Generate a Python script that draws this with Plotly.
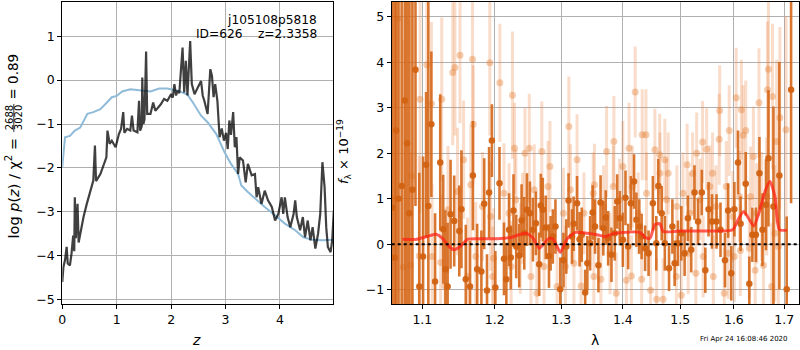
import plotly.graph_objects as go

# ---------------- left panel data: log p(z) ----------------
z_blue = [0, 0.05, 0.14, 0.23, 0.33, 0.39, 0.46, 0.57, 0.70, 0.82,
          0.91, 1.0, 1.10, 1.25, 1.44, 1.62, 1.78, 1.93, 2.12, 2.30,
          2.40, 2.55, 2.67, 2.83, 2.98, 3.10, 3.23, 3.29, 3.41, 3.54,
          3.72, 3.91, 4.09, 4.28, 4.43, 4.59, 4.77, 5.0]
logp_blue = [-1.98, -1.3, -1.27, -1.15, -1.08, -0.92, -0.77, -0.73, -0.66, -0.51,
             -0.39, -0.36, -0.26, -0.21, -0.24, -0.26, -0.19, -0.19, -0.24, -0.33,
             -0.51, -0.81, -0.96, -1.23, -1.64, -1.91, -2.14, -2.40, -2.55, -2.70,
             -2.89, -3.08, -3.27, -3.42, -3.58, -3.64, -3.65, -3.64]

z_dark = [0.0, 0.02, 0.05, 0.08, 0.1, 0.14, 0.17, 0.2, 0.22, 0.23,
          0.25, 0.28, 0.3, 0.33, 0.39, 0.45, 0.51, 0.57, 0.6, 0.62,
          0.7, 0.76, 0.81, 0.83, 0.87, 0.91, 0.98, 1.04, 1.08, 1.12,
          1.14, 1.19, 1.25, 1.28, 1.31, 1.38, 1.41, 1.43, 1.46, 1.47,
          1.49, 1.51, 1.54, 1.56, 1.62, 1.67, 1.71, 1.81, 1.87, 1.93,
          2.0, 2.03, 2.06, 2.09, 2.12, 2.15, 2.21, 2.24, 2.27, 2.3,
          2.35, 2.38, 2.43, 2.49, 2.55, 2.58, 2.61, 2.67, 2.72, 2.75,
          2.78, 2.81, 2.85, 2.89, 2.93, 2.97, 3.01, 3.04, 3.07, 3.1,
          3.14, 3.17, 3.2, 3.23, 3.26, 3.32, 3.37, 3.41, 3.48, 3.54,
          3.57, 3.6, 3.66, 3.72, 3.78, 3.85, 3.91, 3.97, 4.03, 4.06,
          4.09, 4.14, 4.19, 4.25, 4.28, 4.31, 4.37, 4.42, 4.46, 4.51,
          4.56, 4.6, 4.65, 4.7, 4.74, 4.78, 4.82, 4.85, 4.88, 4.93,
          4.96, 4.99]
logp_dark = [-4.6, -4.26, -4.1, -3.8, -4.18, -4.22, -3.95, -3.54, -3.9, -2.67,
             -3.6, -2.82, -3.7, -3.5, -3.12, -2.82, -2.52, -2.29, -1.49, -2.3,
             -2.14, -1.91, -1.76, -1.15, -1.45, -1.38, -1.53, -1.23, -1.11, -0.73,
             -1.2, -1.11, -1.15, -0.81, -1.15, -1.19, -0.47, -1.15, -1.05, 0.06,
             -1.0, -0.9, 0.65, -0.77, -0.77, -0.51, -0.7, -0.55, -0.43, -0.47,
             -0.32, -0.4, -0.09, -0.35, -0.24, -0.3, 0.74, -0.28, 0.44, -0.35,
             0.89, -0.09, -0.32, -0.17, -0.02, -0.35, -0.47, -0.77, 0.25, 0.1,
             -0.39, -0.09, -0.47, -1.3, -1.1, -1.38, -1.2, -1.57, -0.92, -1.25,
             -0.73, -1.53, -1.3, -2.14, -1.76, -1.83, -2.33, -1.91, -2.17, -2.14,
             -2.67, -2.44, -2.82, -2.52, -2.74, -2.89, -3.2, -3.05, -2.67, -3.05,
             -2.67, -3.12, -3.35, -3.05, -2.74, -3.12, -3.42, -3.12, -3.58, -3.2,
             -3.65, -3.35, -3.84, -3.5, -3.05, -1.87, -2.44, -3.35, -3.8, -3.92,
             -3.65, -2.97]

# ---------------- right panel data: spectrum ----------------
lam_d = [1.061, 1.064, 1.066, 1.069, 1.073, 1.077, 1.080, 1.083, 1.087, 1.091,
         1.096, 1.101, 1.105, 1.108, 1.112, 1.117, 1.124, 1.128, 1.131, 1.134,
         1.138, 1.143, 1.150, 1.153, 1.159, 1.165, 1.169, 1.175, 1.181, 1.185,
         1.189, 1.192, 1.196, 1.201, 1.207, 1.2135, 1.217, 1.221, 1.2235, 1.2275,
         1.2315, 1.236, 1.2395, 1.2435, 1.2475, 1.252, 1.2565, 1.261, 1.266, 1.2685,
         1.2715, 1.276, 1.281, 1.2835, 1.287, 1.291, 1.2985, 1.3035, 1.308, 1.3115,
         1.317, 1.3195, 1.325, 1.329, 1.3325, 1.338, 1.3415, 1.346, 1.350, 1.354,
         1.3595, 1.363, 1.3675, 1.3715, 1.3755, 1.381, 1.3865, 1.3905, 1.395, 1.400,
         1.4045, 1.409, 1.4135, 1.419, 1.423, 1.428, 1.432, 1.438, 1.444, 1.4515,
         1.4575, 1.461, 1.467, 1.4725, 1.480, 1.486, 1.490, 1.496, 1.502, 1.508,
         1.514, 1.520, 1.526, 1.5325, 1.5395, 1.546, 1.552, 1.5585, 1.567, 1.5745,
         1.583, 1.589, 1.595, 1.601, 1.608, 1.613, 1.623, 1.630, 1.636, 1.643,
         1.650, 1.656, 1.663, 1.668, 1.678, 1.690, 1.705, 1.714]
flux_d = [0.8, -0.3, 2.5, 1.0, 1.28, 3.16, 2.22, 0.68, 1.2, 3.84,
          -0.93, -0.27, 1.75, 0.84, 2.64, -0.82, 1.80, 0.33, -0.55, -0.93,
          0.66, 0.51, 0.29, 0.77, -0.77, -0.93, 1.51, -0.55, -0.60, 0.89,
          -1.02, 1.14, 2.28, -0.95, 1.34, -0.32, -0.77, 0.32, -0.29, 0.74,
          -0.05, -0.25, 0.52, 0.24, 0.76, 0.68, 0.32, 0.46, -0.44, 0.85,
          0.76, 0.37, -0.26, 0.02, 0.17, 0.39, -0.99, -0.35, -0.05, 0.96,
          0.17, 0.45, 0.90, 0.11, 0.21, -1.06, -0.42, 0.02, 0.70, 0.39,
          -0.46, 0.92, 0.35, 0.59, 0.13, -0.23, 0.24, 0.94, 0.57, 0.10,
          1.02, -0.05, 0.90, 1.38, 0.54, 0.39, 0.17, -0.09, -0.20, 0.90,
          0.02, 1.28, 0.68, 0.02, -0.53, 0.39, -0.42, 0.02, 0.24, -0.20,
          0.57, -0.12, 1.14, 0.50, 1.14, -0.57, 0.77, 0.50, 0.50, 0.32,
          -0.35, 0.74, -0.64, 0.77, 1.80, 0.45, 1.33, -0.87, 0.21, 0.21,
          1.56, 0.32, 0.87, 1.89, 0.83, 1.51, -0.99, 3.4]
err_d = [10, 10, 10, 9, 8, 7, 7, 5, 6, 3,
         2.5, 2.2, 1.6, 4.5, 1.6, 1.5, 1.5, 1.2, 1.3, 1.4,
         1.2, 1.0, 1.0, 1.3, 1.2, 1.0, 1.2, 1.0, 0.9, 1.0,
         0.8, 1.0, 0.8, 0.8, 0.8, 0.8, 0.8, 0.8, 0.7, 0.8,
         0.7, 0.7, 0.8, 0.8, 0.8, 0.7, 0.7, 0.7, 0.7, 0.7,
         0.7, 0.7, 0.7, 0.6, 0.6, 0.6, 0.7, 0.6, 0.6, 0.6,
         0.6, 0.6, 0.6, 0.6, 0.6, 0.5, 0.6, 0.6, 0.6, 0.6,
         0.6, 0.6, 0.6, 0.6, 0.6, 0.6, 0.6, 0.6, 0.6, 0.6,
         0.6, 0.5, 0.6, 0.6, 0.6, 0.6, 0.5, 0.5, 0.5, 0.6,
         0.6, 0.6, 0.6, 0.6, 0.5, 0.6, 0.5, 0.5, 0.6, 0.5,
         0.5, 0.5, 0.6, 0.5, 0.5, 0.5, 0.6, 0.6, 0.6, 0.6,
         0.6, 0.6, 0.6, 0.6, 0.7, 0.6, 0.7, 0.6, 0.6, 0.6,
         0.8, 0.8, 1.0, 1.5, 2.2, 2.5, 1.6, 2.5]

lam_l = [1.062, 1.068, 1.075, 1.086, 1.097, 1.106, 1.112, 1.126, 1.141, 1.144,
         1.151, 1.1685, 1.1695, 1.156, 1.193, 1.2075, 1.226, 1.229, 1.251, 1.2445,
         1.270, 1.2825, 1.312, 1.325, 1.353, 1.373, 1.385, 1.400, 1.4105, 1.421,
         1.433, 1.4395, 1.455, 1.4635, 1.4725, 1.4785, 1.5125, 1.5225, 1.530, 1.541,
         1.5485, 1.5595, 1.572, 1.573, 1.591, 1.6045, 1.6145, 1.623, 1.618, 1.638,
         1.649, 1.668, 1.666, 1.676, 1.6845, 1.691, 1.7035,
         1.0843, 1.096, 1.113, 1.1245, 1.1305, 1.1615, 1.173, 1.1985, 1.197, 1.224,
         1.2375, 1.2535, 1.2625, 1.2735, 1.2935, 1.3065, 1.320, 1.3315, 1.352, 1.3635,
         1.3785, 1.389, 1.406, 1.4145, 1.432, 1.4475, 1.458, 1.4695, 1.493, 1.502,
         1.5145, 1.5285, 1.542, 1.561, 1.5815, 1.589, 1.601, 1.6125, 1.630, 1.6415,
         1.658, 1.6745, 1.688,
         1.1345, 1.1475, 1.166, 1.1825, 1.194, 1.2135, 1.221, 1.231, 1.241, 1.2585,
         1.2795, 1.3035, 1.3145, 1.336, 1.351, 1.368, 1.384, 1.3945, 1.416, 1.426,
         1.4405, 1.464, 1.4755, 1.494, 1.505, 1.5175, 1.536, 1.5545, 1.566, 1.5855,
         1.598, 1.611, 1.6325, 1.6445, 1.6545, 1.6645, 1.681]
flux_l = [1.0, 4.96, -0.5, 1.5, 3.19, 3.95, 3.09, 3.19, 3.78, 3.89,
          4.16, 4.07, 2.64, 1.86, 3.99, 3.55, 3.28, 2.11, 2.11, 2.0,
          2.04, 1.71, 2.59, 1.86, 1.31, 2.04, 2.26, 1.71, 2.11, 3.35,
          2.41, 2.41, 2.08, 1.97, 1.86, 1.56, 1.75, 1.56, 2.0, 2.25,
          2.09, 1.56, 2.31, 2.94, 2.5, 3.22, 2.96, 2.5, 2.4, 1.93,
          3.11, 3.85, 3.40, 3.25, 2.26, 2.78, 2.52,
          -0.46, -0.26, -0.27, -0.40, -0.92, -0.71, -0.27, -0.31, -0.71, -0.49,
          -0.09, -0.71, -1.08, -0.49, -0.93, -0.49, -0.42, -0.92, -0.71, -0.77,
          -0.20, -1.08, -0.79, -0.70, -0.77, -1.01, -1.21, -1.21, -0.71, -1.12,
          -0.20, -0.64, -0.27, -0.71, -1.08, -0.20, -0.27, -0.14, -0.09, -0.57,
          -0.46, -0.93, -0.05,
          0.76, 1.16, 1.31, 0.83, 0.61, 1.12, 0.68, 0.98, 0.57, 1.20,
          1.27, 0.68, 1.20, 0.68, 1.12, 0.83, 1.27, 0.98, 1.27, 0.68,
          1.12, 1.56, 0.98, 0.83, 1.12, 0.68, 0.98, 1.27, 0.83, 1.27,
          0.61, 1.05, 1.05, 0.68, 0.83, 1.05, 0.24]
err_l = [6, 6, 5, 4, 2.5, 2.0, 1.8, 1.8, 1.6, 1.5,
         1.5, 1.4, 1.3, 1.3, 1.6, 1.3, 1.4, 1.0, 1.2, 1.0,
         1.1, 1.0, 1.1, 1.0, 0.9, 1.0, 1.0, 1.0, 1.0, 1.0,
         1.0, 1.0, 0.9, 0.9, 0.9, 0.9, 0.9, 0.9, 0.9, 0.9,
         0.9, 0.9, 1.0, 1.0, 1.0, 1.1, 1.1, 1.1, 1.1, 1.1,
         1.2, 1.5, 1.5, 1.6, 1.8, 2.0, 2.5,
         2.5, 2.2, 1.6, 1.5, 1.4, 1.3, 1.2, 1.1, 1.1, 1.0,
         1.0, 1.0, 1.0, 0.9, 0.9, 0.9, 0.9, 0.9, 0.9, 0.9,
         0.9, 0.9, 0.9, 0.9, 0.9, 0.9, 0.9, 0.9, 0.9, 0.9,
         0.9, 0.9, 0.9, 0.9, 1.0, 1.0, 1.0, 1.0, 1.1, 1.1,
         1.2, 1.4, 1.6,
         1.4, 1.4, 1.3, 1.2, 1.2, 1.1, 1.1, 1.1, 1.0, 1.0,
         1.0, 1.0, 1.0, 0.9, 0.9, 0.9, 0.9, 0.9, 0.9, 0.9,
         0.9, 0.9, 0.9, 0.9, 0.9, 0.9, 0.9, 0.9, 0.9, 1.0,
         1.0, 1.0, 1.1, 1.1, 1.2, 1.3, 1.5]

lam_model = [1.074, 1.093, 1.106, 1.118, 1.127, 1.136, 1.143, 1.152, 1.162, 1.180,
             1.203, 1.2235, 1.236, 1.246, 1.256, 1.266, 1.2735, 1.281, 1.2875, 1.2935,
             1.2985, 1.3035, 1.310, 1.3225, 1.341, 1.357, 1.371, 1.384, 1.400, 1.429,
             1.438, 1.4465, 1.455, 1.464, 1.4695, 1.4985, 1.5425, 1.598, 1.608, 1.619,
             1.630, 1.639, 1.651, 1.661, 1.671, 1.681, 1.690, 1.705]
flux_model = [0.11, 0.11, 0.17, 0.22, 0.13, -0.05, -0.12, -0.04, 0.11, 0.12,
              0.12, 0.15, 0.21, 0.24, 0.15, -0.09, 0.02, 0.13, 0.11, -0.05,
              -0.18, -0.05, 0.13, 0.26, 0.24, 0.21, 0.17, 0.23, 0.26, 0.26,
              0.15, 0.13, 0.43, 0.45, 0.28, 0.29, 0.29, 0.32, 0.54, 0.72,
              0.54, 0.40, 0.76, 1.16, 1.38, 1.05, 0.32, 0.31]

x_ticks_left = [0, 1, 2, 3, 4]
y_ticks_left = [-5, -4, -3, -2, -1, 0, 1]
x_ticks_right = [1.1, 1.2, 1.3, 1.4, 1.5, 1.6, 1.7]
y_ticks_right = [-1, 0, 1, 2, 3, 4, 5]

# ---------------- figure ----------------
W, H = 800, 350
FONT = "DejaVu Sans"


def pxx(x):
    return x / W


def pxy(y):
    return 1 - y / H


fig = go.Figure()

fig.add_trace(go.Scatter(x=z_blue, y=logp_blue, mode="lines",
                         line=dict(color="#8fbbd9", width=2),
                         xaxis="x", yaxis="y", showlegend=False))
fig.add_trace(go.Scatter(x=z_dark, y=logp_dark, mode="lines",
                         line=dict(color="rgba(0,0,0,0.75)", width=2.2),
                         xaxis="x", yaxis="y", showlegend=False))

fig.add_trace(go.Scatter(x=lam_l, y=flux_l, mode="markers",
                         marker=dict(color="rgba(230,125,50,0.38)", size=7),
                         error_y=dict(type="data", array=err_l, color="rgba(232,130,60,0.28)",
                                      thickness=3, width=0),
                         xaxis="x2", yaxis="y2", showlegend=False))
fig.add_trace(go.Scatter(x=lam_d, y=flux_d, mode="markers",
                         marker=dict(color="rgba(210,98,18,0.95)", size=6.5),
                         error_y=dict(type="data", array=err_d, color="rgba(212,100,20,0.88)",
                                      thickness=2.6, width=0),
                         xaxis="x2", yaxis="y2", showlegend=False))
fig.add_trace(go.Scatter(x=lam_model, y=flux_model, mode="lines",
                         line=dict(color="rgba(255,30,20,0.72)", width=3, shape="spline", smoothing=0.6),
                         xaxis="x2", yaxis="y2", showlegend=False))

fig.add_shape(type="line", xref="x2 domain", yref="y2", x0=0, x1=1, y0=0, y1=0,
              line=dict(color="black", width=2, dash="dot"), layer="above")

axis_common = dict(showgrid=True, gridcolor="#b0b0b0", gridwidth=1, showline=True,
                   linecolor="black", linewidth=1, mirror=True, ticks="outside",
                   ticklen=4, tickcolor="black", zeroline=False, automargin=False,
                   tickfont=dict(family=FONT, size=12.5, color="black"))

top_px, bot_px = 2, 303.5
fig.update_layout(
    template="none",
    width=W, height=H, margin=dict(l=0, r=0, t=0, b=0, pad=0),
    paper_bgcolor="white", plot_bgcolor="white",
    font=dict(family=FONT, size=13, color="black"),
    xaxis=dict(domain=[pxx(62.3), pxx(333.3)], range=[0, 4.98], tickvals=x_ticks_left,
               anchor="y", **axis_common),
    yaxis=dict(domain=[pxy(bot_px), pxy(top_px)], range=[-5.09, 1.78], tickvals=y_ticks_left,
               anchor="x", **axis_common),
    xaxis2=dict(domain=[pxx(391.7), pxx(799.3)], type="log", range=[0.0254, 0.2383],
                tickvals=x_ticks_right, ticktext=[f"{v:.1f}" for v in x_ticks_right],
                anchor="y2", **axis_common),
    yaxis2=dict(domain=[pxy(304), pxy(1.5)], range=[-1.315, 5.34], tickvals=y_ticks_right,
                anchor="x2", **axis_common),
)

ann = []
# title text in left panel
ann.append(dict(text="j105108p5818", x=pxx(319), y=pxy(20), xref="paper", yref="paper",
                xanchor="right", yanchor="middle", showarrow=False,
                font=dict(family=FONT, size=12.2)))
ann.append(dict(text="ID=626    z=2.3358", x=pxx(319), y=pxy(34.5), xref="paper", yref="paper",
                xanchor="right", yanchor="middle", showarrow=False,
                font=dict(family=FONT, size=12.2)))
# left y label, in pieces (stacked fraction)
ann.append(dict(text="log <i>p</i>(<i>z</i>) / χ<sup>2</sup> =", x=pxx(12.5), y=pxy(188),
                xref="paper", yref="paper", xanchor="center", yanchor="middle",
                textangle=-90, showarrow=False, font=dict(family=FONT, size=14.5)))
ann.append(dict(text="2688", x=pxx(9.3), y=pxy(118), xref="paper", yref="paper",
                xanchor="center", yanchor="middle", textangle=-90, showarrow=False,
                font=dict(family=FONT, size=10)))
ann.append(dict(text="3020", x=pxx(18.2), y=pxy(118), xref="paper", yref="paper",
                xanchor="center", yanchor="middle", textangle=-90, showarrow=False,
                font=dict(family=FONT, size=10)))
ann.append(dict(text="= 0.89", x=pxx(12.5), y=pxy(77), xref="paper", yref="paper",
                xanchor="center", yanchor="middle", textangle=-90, showarrow=False,
                font=dict(family=FONT, size=13.5)))
fig.add_shape(type="line", xref="paper", yref="paper", x0=pxx(13.8), x1=pxx(13.8),
              y0=pxy(104), y1=pxy(132), line=dict(color="black", width=0.8))
# right y label
ann.append(dict(text="<i>f</i><sub>λ</sub> × 10<sup>−19</sup>", x=pxx(344), y=pxy(152),
                xref="paper", yref="paper", xanchor="center", yanchor="middle",
                textangle=-90, showarrow=False, font=dict(family=FONT, size=13)))
# x labels
ann.append(dict(text="<i>z</i>", x=pxx(196), y=pxy(340), xref="paper", yref="paper",
                xanchor="center", yanchor="middle", showarrow=False,
                font=dict(family=FONT, size=14)))
ann.append(dict(text="λ", x=pxx(595), y=pxy(340), xref="paper", yref="paper",
                xanchor="center", yanchor="middle", showarrow=False,
                font=dict(family=FONT, size=14)))
# timestamp
ann.append(dict(text="Fri Apr 24 16:08:46 2020", x=pxx(744), y=pxy(339), xref="paper",
                yref="paper", xanchor="center", yanchor="middle", showarrow=False,
                font=dict(family=FONT, size=7)))
fig.update_layout(annotations=ann)

fig.write_html("out.html", config={"displayModeBar": False},
               post_script="document.body.style.margin='0';document.body.style.padding='0';")
